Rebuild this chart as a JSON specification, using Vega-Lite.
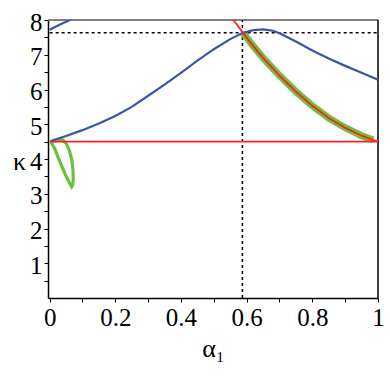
{
  "$schema": "https://vega.github.io/schema/vega-lite/v6.json",
  "width": 330,
  "height": 278,
  "autosize": "none",
  "padding": {"left": 48, "top": 20, "right": 12, "bottom": 92},
  "background": "white",
  "config": {"view": {"stroke": null}, "font": "Liberation Serif",
    "axis": {"labelFont": "Liberation Serif, Times New Roman, serif", "titleFont": "Liberation Serif, Times New Roman, serif"}},
  "data": {"values": [
    {"s": "blue1", "o": 1, "a": 0.003, "k": 4.52},
    {"s": "blue1", "o": 2, "a": 0.05, "k": 4.66},
    {"s": "blue1", "o": 3, "a": 0.1, "k": 4.83},
    {"s": "blue1", "o": 4, "a": 0.15, "k": 5.02},
    {"s": "blue1", "o": 5, "a": 0.2, "k": 5.24},
    {"s": "blue1", "o": 6, "a": 0.25, "k": 5.5},
    {"s": "blue1", "o": 7, "a": 0.3, "k": 5.82},
    {"s": "blue1", "o": 8, "a": 0.35, "k": 6.14},
    {"s": "blue1", "o": 9, "a": 0.4, "k": 6.48},
    {"s": "blue1", "o": 10, "a": 0.45, "k": 6.83},
    {"s": "blue1", "o": 11, "a": 0.5, "k": 7.16},
    {"s": "blue1", "o": 12, "a": 0.55, "k": 7.45},
    {"s": "blue1", "o": 13, "a": 0.589, "k": 7.63},
    {"s": "blue1", "o": 14, "a": 0.62, "k": 7.71},
    {"s": "blue1", "o": 15, "a": 0.65, "k": 7.73},
    {"s": "blue1", "o": 16, "a": 0.68, "k": 7.69},
    {"s": "blue1", "o": 17, "a": 0.7, "k": 7.62},
    {"s": "blue1", "o": 18, "a": 0.75, "k": 7.38},
    {"s": "blue1", "o": 19, "a": 0.8, "k": 7.12},
    {"s": "blue1", "o": 20, "a": 0.85, "k": 6.89},
    {"s": "blue1", "o": 21, "a": 0.9, "k": 6.68},
    {"s": "blue1", "o": 22, "a": 0.95, "k": 6.48},
    {"s": "blue1", "o": 23, "a": 1.0, "k": 6.28},
    {"s": "blue2", "o": 1, "a": 0.0, "k": 7.72},
    {"s": "blue2", "o": 2, "a": 0.03, "k": 7.86},
    {"s": "blue2", "o": 3, "a": 0.06, "k": 7.99},
    {"s": "blue2", "o": 4, "a": 0.07, "k": 8.04},
    {"s": "redh", "o": 1, "a": 0.0, "k": 4.5},
    {"s": "redh", "o": 2, "a": 1.0, "k": 4.5},
    {"s": "redc", "o": 1, "a": 0.553, "k": 8.08},
    {"s": "redc", "o": 2, "a": 0.57, "k": 7.87},
    {"s": "redc", "o": 3, "a": 0.589, "k": 7.63},
    {"s": "redc", "o": 4, "a": 0.62, "k": 7.25},
    {"s": "redc", "o": 5, "a": 0.65, "k": 6.91},
    {"s": "redc", "o": 6, "a": 0.7, "k": 6.4},
    {"s": "redc", "o": 7, "a": 0.75, "k": 5.94},
    {"s": "redc", "o": 8, "a": 0.8, "k": 5.53},
    {"s": "redc", "o": 9, "a": 0.85, "k": 5.18},
    {"s": "redc", "o": 10, "a": 0.9, "k": 4.9},
    {"s": "redc", "o": 11, "a": 0.95, "k": 4.67},
    {"s": "redc", "o": 12, "a": 1.0, "k": 4.5},
    {"s": "gband", "o": 1, "a": 0.589, "k": 7.63},
    {"s": "gband", "o": 2, "a": 0.62, "k": 7.25},
    {"s": "gband", "o": 3, "a": 0.65, "k": 6.91},
    {"s": "gband", "o": 4, "a": 0.7, "k": 6.4},
    {"s": "gband", "o": 5, "a": 0.75, "k": 5.94},
    {"s": "gband", "o": 6, "a": 0.8, "k": 5.53},
    {"s": "gband", "o": 7, "a": 0.85, "k": 5.18},
    {"s": "gband", "o": 8, "a": 0.9, "k": 4.9},
    {"s": "gband", "o": 9, "a": 0.95, "k": 4.67},
    {"s": "gband", "o": 10, "a": 0.985, "k": 4.55},
    {"s": "gloop", "o": 1, "a": 0.003, "k": 4.5},
    {"s": "gloop", "o": 2, "a": 0.015, "k": 4.52},
    {"s": "gloop", "o": 3, "a": 0.028, "k": 4.55},
    {"s": "gloop", "o": 4, "a": 0.04, "k": 4.55},
    {"s": "gloop", "o": 5, "a": 0.05, "k": 4.45},
    {"s": "gloop", "o": 6, "a": 0.06, "k": 4.25},
    {"s": "gloop", "o": 7, "a": 0.067, "k": 4.0},
    {"s": "gloop", "o": 8, "a": 0.071, "k": 3.7},
    {"s": "gloop", "o": 9, "a": 0.072, "k": 3.42},
    {"s": "gloop", "o": 10, "a": 0.07, "k": 3.25},
    {"s": "gloop", "o": 11, "a": 0.067, "k": 3.2},
    {"s": "gloop", "o": 12, "a": 0.061, "k": 3.3},
    {"s": "gloop", "o": 13, "a": 0.049, "k": 3.53},
    {"s": "gloop", "o": 14, "a": 0.036, "k": 3.82},
    {"s": "gloop", "o": 15, "a": 0.025, "k": 4.06},
    {"s": "gloop", "o": 16, "a": 0.015, "k": 4.31},
    {"s": "gloop", "o": 17, "a": 0.003, "k": 4.5},
    {"s": "doth", "o": 1, "a": 0.0, "k": 7.63},
    {"s": "doth", "o": 2, "a": 1.0, "k": 7.63},
    {"s": "dotv", "o": 1, "a": 0.587, "k": 0.0},
    {"s": "dotv", "o": 2, "a": 0.587, "k": 8.0},
    {"s": "ftop", "o": 1, "a": -0.005, "k": 8.0},
    {"s": "ftop", "o": 2, "a": 1.0, "k": 8.0},
    {"s": "fright", "o": 1, "a": 1.0, "k": 0.0},
    {"s": "fright", "o": 2, "a": 1.0, "k": 8.0}
  ]},
  "encoding": {
    "x": {"field": "a", "type": "quantitative",
      "scale": {"domain": [-0.005, 1], "nice": false, "zero": false},
      "axis": {"title": "α₁", "values": [0, 0.1, 0.2, 0.3, 0.4, 0.5, 0.6, 0.7, 0.8, 0.9, 1],
        "format": "~g", "labelExpr": "round(datum.value*10)%2===0 ? datum.label : ''",
        "labelFlush": false, "labelOverlap": false,
        "labelFont": "Liberation Serif, Times New Roman, serif", "labelFontSize": 25, "labelColor": "black", "labelPadding": 3,
        "tickSize": 4, "tickColor": "black", "domainColor": "black", "domainWidth": 1.5, "grid": false,
        "titleFont": "Liberation Serif, Times New Roman, serif", "titleFontSize": 26, "titleFontWeight": "normal", "titleColor": "black",
        "titleY": 58, "titleBaseline": "alphabetic"}},
    "y": {"field": "k", "type": "quantitative",
      "scale": {"domain": [0, 8], "nice": false},
      "axis": {"title": "κ", "values": [0.5, 1, 1.5, 2, 2.5, 3, 3.5, 4, 4.5, 5, 5.5, 6, 6.5, 7, 7.5, 8],
        "format": "~g", "labelExpr": "datum.value%1===0 ? datum.label : ''",
        "labelFlush": false, "labelOverlap": false, "labelOffset": 2,
        "labelFont": "Liberation Serif, Times New Roman, serif", "labelFontSize": 25, "labelColor": "black", "labelPadding": 2,
        "tickSize": 4, "tickColor": "black", "domainColor": "black", "domainWidth": 1.5, "grid": false,
        "titleFont": "Liberation Serif, Times New Roman, serif", "titleFontSize": 26, "titleFontWeight": "normal", "titleColor": "black",
        "titleAngle": 0, "titleX": -29, "titleY": 149, "titleAlign": "center", "titleBaseline": "alphabetic"}},
    "order": {"field": "o", "type": "quantitative"},
    "detail": {"field": "s", "type": "nominal"}
  },
  "layer": [
    {"transform": [{"filter": "datum.s==='ftop'"}], "mark": {"type": "line", "color": "#808080", "strokeWidth": 2}},
    {"transform": [{"filter": "datum.s==='fright'"}], "mark": {"type": "line", "color": "black", "strokeWidth": 1.5}},
    {"transform": [{"filter": "datum.s==='doth' || datum.s==='dotv'"}], "mark": {"type": "line", "color": "black", "strokeWidth": 1.5, "strokeDash": [3, 3]}},
    {"transform": [{"filter": "datum.s==='gband'"}], "mark": {"type": "line", "color": "#6dbf3f", "strokeWidth": 7, "clip": true}},
    {"transform": [{"filter": "datum.s==='gloop'"}], "mark": {"type": "line", "color": "#6dbf3f", "strokeWidth": 3.2, "clip": true}},
    {"transform": [{"filter": "datum.s==='blue1' || datum.s==='blue2'"}], "mark": {"type": "line", "color": "#3a55a5", "strokeWidth": 2.2, "clip": true}},
    {"transform": [{"filter": "datum.s==='redh' || datum.s==='redc'"}], "mark": {"type": "line", "color": "#ff2020", "strokeWidth": 1.8, "clip": true}}
  ]
}
